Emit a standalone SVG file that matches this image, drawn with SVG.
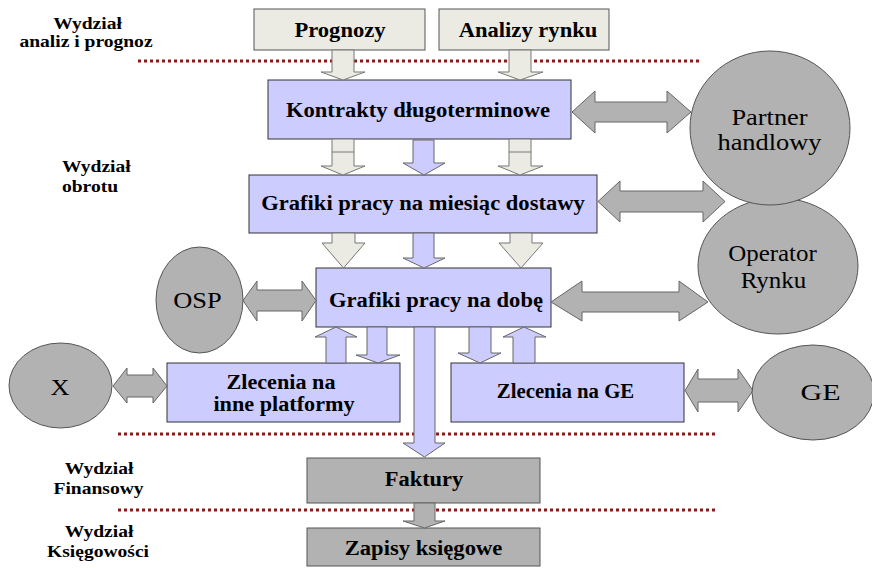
<svg xmlns="http://www.w3.org/2000/svg" width="872" height="568" viewBox="0 0 872 568">
<style>
.bt{font-family:'Liberation Serif','Times New Roman',serif;font-size:20px;font-weight:bold;text-anchor:middle}
.lb{font-family:'Liberation Serif','Times New Roman',serif;font-size:17px;font-weight:bold;text-anchor:middle}
.lbl{font-family:'Liberation Serif','Times New Roman',serif;font-size:17px;font-weight:bold}
.ct{font-family:'Liberation Serif','Times New Roman',serif;font-size:24px;text-anchor:middle}
.blue{fill:#CCCCFF;stroke:#333;stroke-width:1}
.light{fill:#EBEBE3;stroke:#555;stroke-width:1}
.gray{fill:#B2B2B2;stroke:#555;stroke-width:1}
.circ{fill:#B2B2B2;stroke:#555;stroke-width:1}
.dot{stroke:#8B1A1A;stroke-width:3;stroke-dasharray:3 3;fill:none}
.ab{fill:#CCCCFF;stroke:#666;stroke-width:1}
.al{fill:#EBEBE3;stroke:#777;stroke-width:1}
.ag{fill:#B2B2B2;stroke:#666;stroke-width:1}
</style>
<rect width="872" height="568" fill="#fff"/>
<g id="dividers">
<line class="dot" x1="138" y1="61" x2="700" y2="61"/>
<line class="dot" x1="118" y1="434" x2="717" y2="434"/>
<line class="dot" x1="118" y1="510" x2="717" y2="510"/>
</g>
<g id="labels">
<text class="lb" transform="translate(87.5,29) scale(1.15,1)">Wydział</text>
<text class="lb" transform="translate(86,47) scale(1.15,1)">analiz i prognoz</text>
<text class="lbl" transform="translate(62,172) scale(1.15,1)">Wydział</text>
<text class="lbl" transform="translate(62,192) scale(1.15,1)">obrotu</text>
<text class="lb" transform="translate(99,474) scale(1.15,1)">Wydział</text>
<text class="lb" transform="translate(98.5,494) scale(1.15,1)">Finansowy</text>
<text class="lb" transform="translate(99,537) scale(1.15,1)">Wydział</text>
<text class="lb" transform="translate(98,557) scale(1.15,1)">Księgowości</text>
</g>
<g id="prognozy"><rect class="light" x="254" y="9" width="171" height="41"/><text class="bt" transform="translate(340,37) scale(1.13,1)">Prognozy</text></g>
<g id="analizy"><rect class="light" x="439" y="9" width="170" height="41"/><text class="bt" transform="translate(528,37) scale(1.13,1)">Analizy rynku</text></g>
<g id="kontrakty"><rect class="blue" x="268" y="80" width="303" height="59"/><text class="bt" transform="translate(418,117) scale(1.13,1)">Kontrakty długoterminowe</text></g>
<g id="grafiki-miesiac"><rect class="blue" x="249" y="175" width="348" height="58"/><text class="bt" transform="translate(423,210) scale(1.13,1)">Grafiki pracy na miesiąc dostawy</text></g>
<g id="grafiki-doba"><rect class="blue" x="316" y="268" width="235" height="59"/><text class="bt" transform="translate(436,307) scale(1.13,1)">Grafiki pracy na dobę</text></g>
<g id="zlecenia-inne"><rect class="blue" x="167" y="363" width="233" height="59"/><text class="bt" transform="translate(281,389) scale(1.11,1)">Zlecenia na</text><text class="bt" transform="translate(284,411) scale(1.11,1)">inne platformy</text></g>
<g id="zlecenia-ge"><rect class="blue" x="451" y="363" width="233" height="59"/><text class="bt" transform="translate(565.5,398) scale(1.04,1)">Zlecenia na GE</text></g>
<g id="faktury"><rect class="gray" x="307" y="458" width="233" height="45"/><text class="bt" transform="translate(424,486) scale(1.12,1)">Faktury</text></g>
<g id="zapisy"><rect class="gray" x="307" y="528" width="233" height="38"/><text class="bt" transform="translate(423.5,555) scale(1.13,1)">Zapisy księgowe</text></g>
<g id="connectors">
<polygon class="al" points="332,50 354,50 354,72 365,72 343,80 321,72 332,72"/>
<polygon class="al" points="509,50 531,50 531,72 543,72 520,80 498,72 509,72"/>
<polygon class="al" points="332,139 354,139 354,166 365,166 343,175 321,166 332,166"/>
<line x1="332" y1="152" x2="354" y2="152" stroke="#777"/>
<polygon class="ab" points="413,140 434,140 434,163 445,163 424,175 403,163 413,163"/>
<polygon class="al" points="509,139 531,139 531,166 543,166 520,175 498,166 509,166"/>
<line x1="509" y1="152" x2="531" y2="152" stroke="#777"/>
<polygon class="al" points="332,233 355,233 355,243 365,243 343.5,268 322,243 332,243"/>
<polygon class="ab" points="413,233 434,233 434,258 445,258 424,268 403,258 413,258"/>
<polygon class="al" points="510,233 532,233 532,243 543,243 521,268 499,243 510,243"/>
<polygon class="ab" points="326,363 346,363 346,337 357,337 336,327 315,337 326,337"/>
<polygon class="ab" points="367,327 387,327 387,355 400,355 378,363 356,355 367,355"/>
<polygon class="ab" points="414,327 435,327 435,443 445,443 424.5,457 403,443 414,443"/>
<polygon class="ab" points="469,327 491,327 491,353 501,353 480,363 458,353 469,353"/>
<polygon class="ab" points="513,363 535,363 535,337 546,337 524,327 503,337 513,337"/>
<polygon class="ag" points="414,503 435,503 435,521 445,521 424.5,528 403,521 414,521"/>
<polygon class="ag" points="572,112 595,91 595,102 667,102 667,91 691,112 667,133 667,122 595,122 595,133"/>
<polygon class="ag" points="598,201.5 620,181 620,191 703,191 703,181 725,201.5 703,222 703,212 620,212 620,222"/>
<polygon class="ag" points="551,302 582,281 582,292 679,292 679,281 708,302 679,321 679,312 582,312 582,321"/>
<polygon class="ag" points="243,300.5 257,281 257,290 302,290 302,281 316,300.5 302,321 302,311 257,311 257,321"/>
<polygon class="ag" points="113,386 127,368 127,375 153,375 153,368 167,386 153,403 153,397 127,397 127,403"/>
<polygon class="ag" points="685,390.5 698,369 698,379 738,379 738,369 753,390.5 738,412 738,402 698,402 698,412"/>
</g>
<g id="operator-rynku"><ellipse class="circ" cx="778" cy="266" rx="80" ry="68"/><text class="ct" transform="translate(772.5,261) scale(1.04,1)">Operator</text><text class="ct" transform="translate(773.5,288) scale(1.04,1)">Rynku</text></g>
<g id="partner-handlowy"><ellipse class="circ" cx="770" cy="128" rx="80" ry="77"/><text class="ct" transform="translate(769.5,125) scale(1.1,1)">Partner</text><text class="ct" transform="translate(769.5,150) scale(1.1,1)">handlowy</text></g>
<g id="osp"><ellipse class="circ" cx="199.5" cy="300" rx="43.5" ry="53"/><text class="ct" transform="translate(197.5,308) scale(1.1,1)">OSP</text></g>
<g id="x"><ellipse class="circ" cx="60.5" cy="385.5" rx="51.5" ry="42.5"/><text class="ct" transform="translate(60,395) scale(1.1,1)">X</text></g>
<g id="ge"><ellipse class="circ" cx="813" cy="392.5" rx="61" ry="47.5"/><text class="ct" transform="translate(820.5,400) scale(1.25,1)">GE</text></g>
</svg>
